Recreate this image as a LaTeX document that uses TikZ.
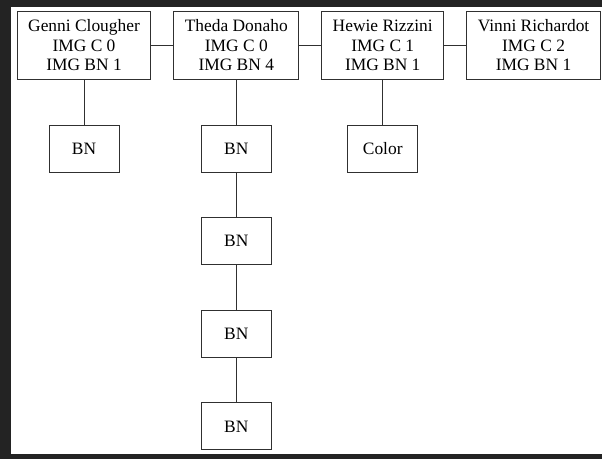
\documentclass[tikz,border=0pt]{standalone}
\usepackage{fontspec}
\setmainfont{Liberation Serif}
\usetikzlibrary{positioning}
\definecolor{framegray}{HTML}{232323}
\definecolor{linegray}{HTML}{303030}

\begin{document}
\begin{tikzpicture}[
      x=1pt, y=1pt,
      every node/.style = {draw=linegray, line width=1pt, align=center, font=\fontsize{17.4}{19.5}\selectfont},
      member/.style = {minimum height=68pt, inner xsep=11pt},
      tag/.style = {minimum width=70pt, minimum height=47pt},
      link/.style = {draw=linegray, line width=1pt},
      node distance = 44.6pt and 22pt
    ]
    \useasboundingbox (0,0) rectangle (602,-459);
    \fill[framegray] (0,0) rectangle (602,-459);
    \fill[white] (11,-7) rectangle (602,-454);

    \node (genni) [member, anchor=north west] at (16.7,-11) {Genni Clougher\\IMG C 0\\IMG BN 1};
    \node (theda) [member, right=of genni]                 {Theda Donaho\\IMG C 0\\IMG BN 4};
    \node (hewie) [member, right=of theda]                 {Hewie Rizzini\\IMG C 1\\IMG BN 1};
    \node (vinni) [member, right=of hewie]                 {Vinni Richardot\\IMG C 2\\IMG BN 1};

    \node (gennibn)    [tag, below=of genni]    {BN};
    \node (thedabna)   [tag, below=of theda]    {BN};
    \node (thedabnb)   [tag, below=of thedabna] {BN};
    \node (thedabnc)   [tag, below=of thedabnb] {BN};
    \node (thedabnd)   [tag, below=of thedabnc] {BN};
    \node (hewiecolor) [tag, below=of hewie]    {Color};

    \draw[link] (genni) -- (theda);
    \draw[link] (theda) -- (hewie);
    \draw[link] (hewie) -- (vinni);

    \draw[link] (genni)    -- (gennibn);
    \draw[link] (theda)    -- (thedabna);
    \draw[link] (thedabna) -- (thedabnb);
    \draw[link] (thedabnb) -- (thedabnc);
    \draw[link] (thedabnc) -- (thedabnd);
    \draw[link] (hewie)    -- (hewiecolor);
\end{tikzpicture}
\end{document}
